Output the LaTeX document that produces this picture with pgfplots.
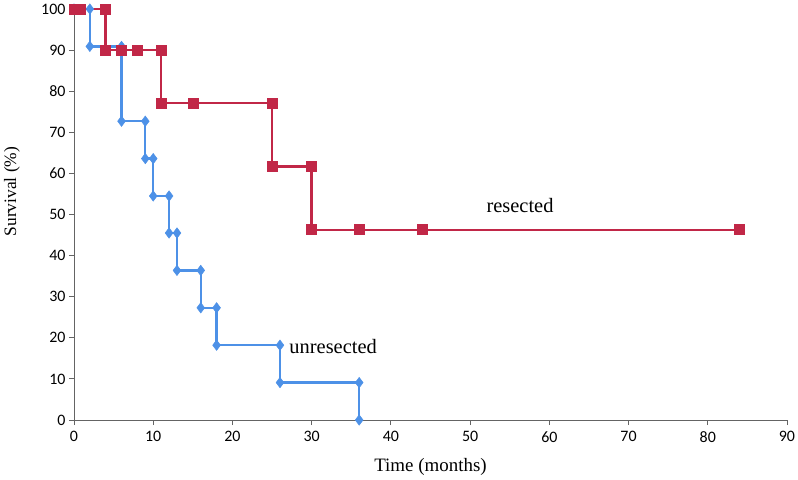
\documentclass[border=0pt]{standalone}
\usepackage{pgfplots}
\pgfplotsset{compat=1.18}
\usepackage{fontspec}
\setmainfont{Liberation Serif}
\newfontfamily\tickfont{Carlito}
\definecolor{kmblue}{RGB}{77,145,231}
\definecolor{kmred}{RGB}{193,39,71}
\definecolor{axgray}{RGB}{100,100,100}
\begin{document}
\begin{tikzpicture}
\useasboundingbox (-74bp,-60bp) rectangle (724bp,420bp);
\begin{axis}[
  at={(0,0)}, anchor=south west,
  scale only axis, width=713bp, height=411bp,
  xmin=0, xmax=90, ymin=0, ymax=100,
  xtick={0,10,...,90}, ytick={0,10,...,100},
  axis x line*=bottom, axis y line*=left,
  axis line style={draw=axgray, line width=0.9pt, -},
  tick style={draw=axgray, line width=0.9pt},
  tick align=outside, major tick length=5bp,
  ticklabel style={font=\tickfont\fontsize{16}{16}\selectfont},
  xticklabel style={yshift=-3bp},
  /pgf/number format/assume math mode=true,
  xlabel={Time (months)}, ylabel={Survival (\%)},
  xlabel style={font=\fontsize{19}{19}\selectfont, at={(axis description cs:0.5,-0.1144)}, anchor=center},
  ylabel style={font=\fontsize{17.5}{17.5}\selectfont, at={(axis description cs:-0.087,0.556)}, anchor=center},
  clip=false,
]
\addplot[kmblue, line width=2.4bp, mark=diamond*, mark size=5.2bp, mark options={solid, fill=kmblue, draw=kmblue, line width=0.5bp}]
coordinates {
(0,100) (2,100) (2,90.9) (6,90.9) (6,72.7) (9,72.7) (9,63.6) (10,63.6) (10,54.5) (12,54.5) (12,45.5) (13,45.5) (13,36.4) (16,36.4) (16,27.3) (18,27.3) (18,18.2) (26,18.2) (26,9.1) (36,9.1) (36,0)
};
\addplot[kmred, line width=2.4bp, mark=square*, mark size=5bp, mark options={solid, fill=kmred, draw=kmred, line width=0.5bp}]
coordinates {
(0,100) (0.8,100) (4,100) (4,90) (6,90) (8,90) (11,90) (11,77.1) (15,77.1) (25,77.1) (25,61.7) (30,61.7) (30,46.3) (36,46.3) (44,46.3) (84,46.3)
};
\node[font=\fontsize{20.5}{20.5}\selectfont, anchor=center] at (axis cs:56.3,52.3) {resected};
\node[font=\fontsize{20.5}{20.5}\selectfont, anchor=west, xshift=6bp, yshift=-1bp] at (axis cs:26,18.2) {unresected};
\end{axis}
\end{tikzpicture}
\end{document}
